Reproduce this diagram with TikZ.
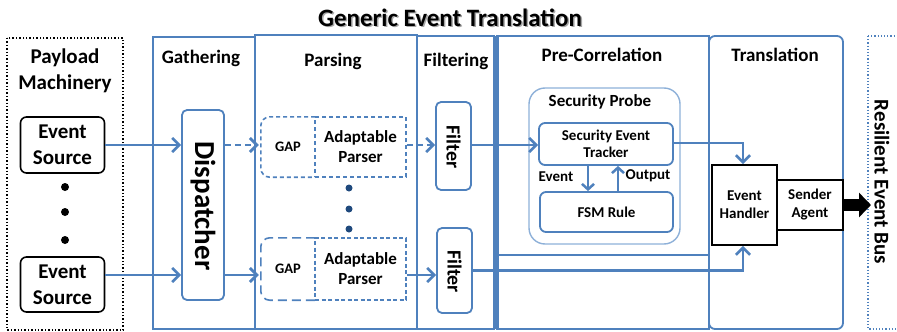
\documentclass[tikz,border=0pt]{standalone}
\usepackage{fontspec}
\setmainfont{Carlito}
\usetikzlibrary{arrows.meta,calc}
\definecolor{bl}{RGB}{79,129,189}
\definecolor{lbl}{RGB}{141,176,216}
\definecolor{dotb}{RGB}{31,73,125}
\begin{document}
\begin{tikzpicture}[x=1pt,y=-1pt,
  every node/.style={inner sep=0pt,align=center},
  colbox/.style={draw=bl,line width=1.8pt},
  head/.style={font=\bfseries\fontsize{19}{23}\selectfont},
  arr/.style={draw=bl,line width=2.7pt,-{Straight Barb[length=7pt,width=14pt]}},
  sarr/.style={draw=bl,line width=2.5pt,-{Straight Barb[length=5.5pt,width=12pt]}},
  plain/.style={draw=bl,line width=2pt},
  src/.style={draw=black,line width=1.6pt,rounded corners=6pt,minimum width=84pt,minimum height=56pt,font=\bfseries\fontsize{21}{26}\selectfont},
  vbox/.style={draw=bl,line width=1.8pt,rounded corners=5pt,fill=white},
  gapl/.style={draw=bl,line width=1.6pt},
  inbox/.style={draw=bl,line width=1.8pt,rounded corners=6pt,font=\bfseries\fontsize{15}{17}\selectfont},
  blk/.style={draw=black,line width=1.8pt,font=\bfseries\fontsize{15}{18}\selectfont},
  txt/.style={font=\bfseries\fontsize{15}{17}\selectfont},
  bigdot/.style={fill=black,circle,minimum size=8pt},
  bdot/.style={fill=dotb,circle,minimum size=7pt}
]
\useasboundingbox (0,0) rectangle (897,332);
% title
\node[font=\bfseries\fontsize{25}{30}\selectfont,text=black!35] at (451.5,19) {Generic Event Translation};
\node[font=\bfseries\fontsize{25}{30}\selectfont] (title) at (450,17.5) {Generic Event Translation};
% columns
\draw[black,line width=1.4pt,dotted] (7,38) rectangle (123,330);
\draw[colbox] (153,37) rectangle (255,329);
\draw[colbox] (255,35) rectangle (417,329);
\draw[colbox] (417,36) rectangle (494,329);
\draw[colbox] (497,36) rectangle (709,329);
\draw[draw=bl,line width=4pt] (497,36) -- (497,329);
\draw[colbox,rounded corners=6pt] (709,36) rectangle (843,329);
\draw[draw=bl,line width=1.2pt,dotted] (868,36) -- (868,329) -- (905,329);
\draw[draw=bl,line width=1.2pt,dotted] (868,36) -- (905,36);
% headings
\node[font=\bfseries\fontsize{21}{26}\selectfont] (pm) at (65,71) {Payload\\Machinery};
\node[head] (hg) at (201,58) {Gathering};
\node[head] (hp) at (333,61) {Parsing};
\node[head] (hf) at (456,61) {Filtering};
\node[head] (hc) at (602,55) {Pre-Correlation};
\node[head] (ht) at (775,55) {Translation};
% sources
\node[src] (es1) at (62.5,145) {Event\\Source};
\node[src,minimum height=55pt] (es2) at (62.5,284.5) {Event\\Source};
\node[bigdot] (d1) at (65,187) {};
\node[bigdot] (d2) at (65,212) {};
\node[bigdot] (d3) at (65,240) {};
% dispatcher
\node[vbox,minimum width=42pt,minimum height=190pt] (disp) at (203,205) {};
\node[rotate=-90,font=\bfseries\fontsize{29}{34}\selectfont] (dispt) at (203,206) {Dispatcher};
% GAP
\node[minimum width=54pt,minimum height=60pt,font=\bfseries\fontsize{14.5}{17}\selectfont] (gap1) at (288,147) {GAP};
\node[gapl,dash pattern=on 4pt off 3pt,minimum width=91pt,minimum height=60pt,font=\bfseries\fontsize{17}{20}\selectfont] (ap1) at (360.5,147) {Adaptable\\Parser};
\draw[gapl,dash pattern=on 4pt off 3pt,rounded corners=9pt] (gap1.north east) -- (gap1.north west) -- (gap1.south west) -- (gap1.south east);
\node[minimum width=54pt,minimum height=62pt,font=\bfseries\fontsize{14.5}{17}\selectfont] (gap2) at (288,269) {GAP};
\node[gapl,dash pattern=on 4pt off 2.5pt,minimum width=91pt,minimum height=62pt,font=\bfseries\fontsize{17}{20}\selectfont] (ap2) at (360.5,269) {Adaptable\\Parser};
\draw[gapl,dash pattern=on 9pt off 5pt,rounded corners=9pt] (gap2.north east) -- (gap2.north west) -- (gap2.south west) -- (gap2.south east);
\node[bdot] (p1) at (349,188) {};
\node[bdot] (p2) at (349,209) {};
\node[bdot] (p3) at (349,229) {};
% filters
\node[vbox,minimum width=35pt,minimum height=88pt] (filt1) at (453.5,146) {};
\node[rotate=-90,font=\bfseries\fontsize{20}{24}\selectfont] (f1t) at (453.5,147) {Filter};
\node[vbox,minimum width=35pt,minimum height=85pt] (filt2) at (454.5,270.5) {};
\node[rotate=-90,font=\bfseries\fontsize{20}{24}\selectfont] (f2t) at (454.5,271.5) {Filter};
% security probe
\node[draw=lbl,line width=1.4pt,rounded corners=16pt,minimum width=151pt,minimum height=156pt] (sp) at (604.5,166) {};
\node[font=\bfseries\fontsize{17}{20}\selectfont] (spt) at (600,102) {Security Probe};
\node[inbox,minimum width=134pt,minimum height=42pt] (set) at (606,144) {Security Event\\Tracker};
\node[inbox,minimum width=133pt,minimum height=40pt] (fsm) at (606.5,212) {FSM Rule};
\coordinate (ea) at (588,0);
\coordinate (oa) at (618,0);
\draw[sarr] (set.south -| ea) -- (fsm.north -| ea);
\draw[sarr] (fsm.north -| oa) -- (set.south -| oa);
\node[txt] (evl) at (556,177) {Event};
\node[txt] (outl) at (648,176) {Output};
% translation
\node[blk,minimum width=65pt,minimum height=80pt] (eh) at (744.5,205) {Event\\Handler};
\node[blk,minimum width=66pt,minimum height=50pt] (sa) at (810,205) {Sender\\Agent};
\node[rotate=-90,font=\bfseries\fontsize{21}{25}\selectfont] (reb) at (882,182) {Resilient Event Bus};
\draw[black,line width=12pt,-{Triangle[length=12pt,width=24pt]}] (sa.east) -- (871,205);
% connectors
\coordinate (r1) at (0,145);
\coordinate (r2) at (0,275);
\coordinate (r3) at (0,143);
\draw[arr] (es1.east |- r1) -- (disp.west |- r1);
\draw[arr] (es2.east |- r2) -- (disp.west |- r2);
\draw[arr,dash pattern=on 6pt off 4pt] (disp.east |- r1) -- ([xshift=-2pt]gap1.west |- r1);
\draw[arr] (disp.east |- r2) -- ([xshift=-2pt]gap2.west |- r2);
\draw[arr,dash pattern=on 6pt off 4pt] (ap1.east |- r1) -- (filt1.west |- r1);
\draw[arr] (ap2.east |- r2) -- (filt2.west |- r2);
\draw[arr] (filt1.east |- r1) -- (set.west |- r1);
\draw[arr] (set.east |- r3) -| ([xshift=-1.5pt]eh.north);
\draw[arr] (filt2.east) -| ([xshift=-1.5pt]eh.south);
\coordinate (l1) at (497,255);
\coordinate (l2) at (709,255);
\draw[plain] (l1) -- (l2);
\end{tikzpicture}
\end{document}
